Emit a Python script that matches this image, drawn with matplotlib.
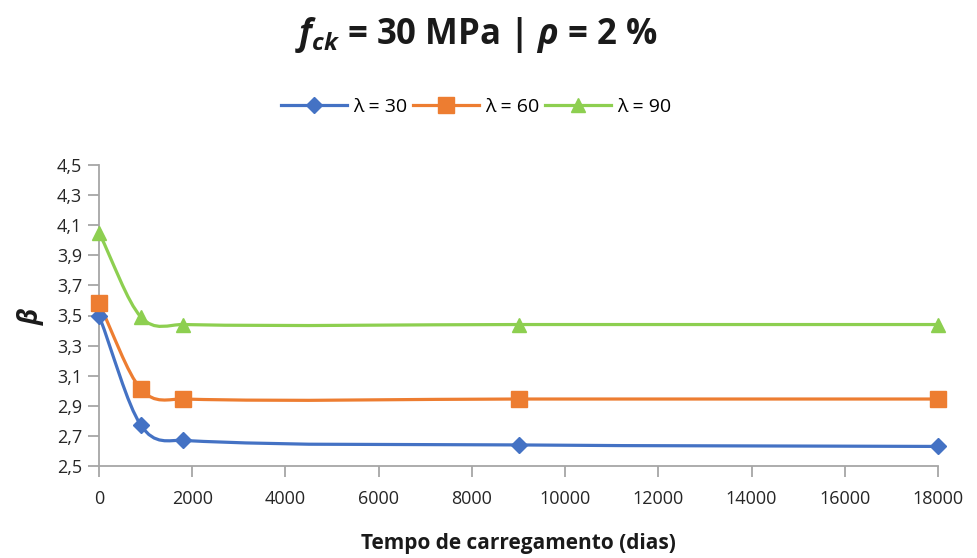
import numpy as np
import matplotlib
matplotlib.use("Agg")
import matplotlib.pyplot as plt
from matplotlib.path import Path
from matplotlib.patches import PathPatch
from matplotlib.ticker import FuncFormatter

# tempo de carregamento (dias)
t = [0, 900, 1800, 9000, 18000]
beta_30 = [3.50, 2.77, 2.67, 2.64, 2.63]
beta_60 = [3.58, 3.01, 2.945, 2.945, 2.945]
beta_90 = [4.05, 3.49, 3.44, 3.44, 3.44]
labels = ["λ = 30", "λ = 60", "λ = 90"]
yticks = [2.5, 2.7, 2.9, 3.1, 3.3, 3.5, 3.7, 3.9, 4.1, 4.3, 4.5]

colors = ["#4472C4", "#ED7D31", "#8DCF50"]
markers = ["D", "s", "^"]
msizes = [8, 11, 10]

plt.rcParams["font.family"] = ["Open Sans", "DejaVu Sans"]
plt.rcParams["mathtext.fontset"] = "custom"
plt.rcParams["mathtext.it"] = "Open Sans:italic:bold"
plt.rcParams["mathtext.rm"] = "Open Sans:bold"


def smooth_path(x, y):
    # smoothed line as cubic bezier pieces, y as a function of x
    x = np.asarray(x, float)
    y = np.asarray(y, float)
    n = len(x)
    m = np.zeros(n)
    m[0] = (y[1] - y[0]) / (x[1] - x[0])
    m[-1] = (y[-1] - y[-2]) / (x[-1] - x[-2])
    for i in range(1, n - 1):
        m[i] = (y[i + 1] - y[i - 1]) / (x[i + 1] - x[i - 1])
    verts = [(x[0], y[0])]
    codes = [Path.MOVETO]
    for i in range(n - 1):
        h = x[i + 1] - x[i]
        verts += [(x[i] + h / 3, y[i] + m[i] * h / 3),
                  (x[i + 1] - h / 3, y[i + 1] - m[i + 1] * h / 3),
                  (x[i + 1], y[i + 1])]
        codes += [Path.CURVE4] * 3
    return Path(verts, codes)


fig = plt.figure(figsize=(9.77, 5.58), dpi=100)
ax = fig.add_axes([99 / 977, 1 - 466 / 558, 839 / 977, 301 / 558])

for ys, c, mk, ms, lab in zip([beta_30, beta_60, beta_90], colors, markers, msizes, labels):
    ax.add_patch(PathPatch(smooth_path(t, ys), facecolor="none", edgecolor=c, lw=2.3,
                           zorder=2, clip_on=False))
    ax.plot(t, ys, ls="none", marker=mk, ms=ms, color=c, zorder=3, clip_on=False)
    ax.plot([], [], color=c, lw=2.3, marker=mk, ms=ms, label=lab)

ax.set_xlim(0, 18000)
ax.set_ylim(2.5, 4.5)
ax.set_xticks(range(0, 18001, 2000))
ax.set_yticks(yticks)
ax.yaxis.set_major_formatter(FuncFormatter(lambda v, p: f"{v:.1f}".replace(".", ",")))
for s in ["top", "right"]:
    ax.spines[s].set_visible(False)
for s in ["left", "bottom"]:
    ax.spines[s].set_color("#A6A6A6")
    ax.spines[s].set_linewidth(1.3)
ax.tick_params(axis="both", colors="#A6A6A6", length=8, width=1.3, labelsize=13,
               labelcolor="#262626")
ax.tick_params(axis="x", pad=9)
ax.tick_params(axis="y", pad=4)

ax.set_xlabel("Tempo de carregamento (dias)", fontsize=15, fontweight="bold",
              color="#1a1a1a", labelpad=18)
ax.set_ylabel(r"$β$", fontsize=19, color="#1a1a1a", labelpad=8)

fig.text(0.487, 0.938, r"$f_{ck}$ = 30 MPa | $ρ$ = 2 %", ha="center", va="center",
         fontsize=25, fontweight="bold", color="#1a1a1a")

fig.legend(loc="center", bbox_to_anchor=(0.487, 0.808), ncol=3, frameon=False,
           fontsize=14, handlelength=3.4, columnspacing=0.3, handletextpad=0.3)

fig.savefig("out.png", dpi=100)
